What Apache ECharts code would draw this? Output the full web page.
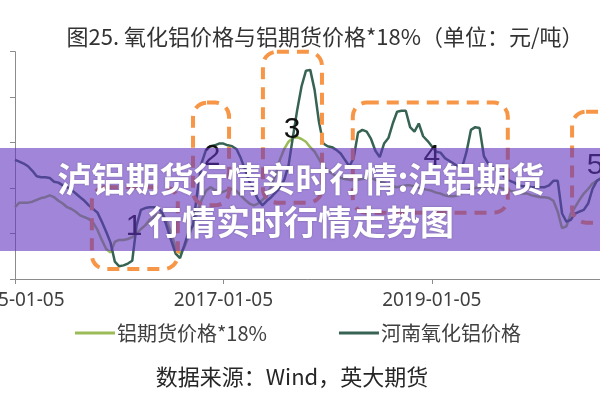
<!DOCTYPE html>
<html>
<head>
<meta charset="utf-8">
<script src="https://cdn.jsdelivr.net/npm/echarts@6/dist/echarts.min.js"></script>
<style>
html,body{margin:0;padding:0;background:#fff;}
#c{width:600px;height:400px;}
</style>
</head>
<body>
<div id="c"></div>
<script>
// ---- data (semi-monthly samples, 2015-01-05 .. 2020-09-05) ----
const startYear = 2015;
const categories = [];
for (let i = 0; i < 137; i++) {
  const m = Math.floor(i / 2);
  const y = startYear + Math.floor(m / 12);
  const mm = String(m % 12 + 1).padStart(2, '0');
  categories.push(y + '-' + mm + '-' + (i % 2 === 0 ? '05' : '20'));
}

const seriesNames = ['铝期货价格*18%', '河南氧化铝价格'];

const aluminumFutures18 = [
  2290,2340,2340,2340,2350,2370,2390,2400,2420,2400,
  2360,2330,2290,2270,2240,2200,2180,2160,2120,2040,
  1930,1830,1790,1910,1930,1930,1940,1960,2000,2050,
  2090,2150,2180,2220,2220,2130,2010,1840,1780,1850,
  1970,2090,2240,2370,2470,2510,2480,2450,2460,2480,
  2490,2470,2420,2370,2330,2310,2330,2370,2420,2520,
  2640,2810,2930,3010,3050,3060,3040,3010,2950,2900,
  2820,2740,2690,2660,2630,2610,2600,2590,2590,2590,
  2600,2610,2610,2590,2570,2560,2530,2520,2510,2520,
  2530,2530,2520,2500,2490,2480,2470,2450,2440,2420,
  2410,2410,2420,2450,2470,2490,2500,2510,2510,2520,
  2520,2510,2500,2480,2470,2460,2450,2440,2440,2420,
  2410,2400,2400,2390,2360,2240,2060,2080,2220,2290,
  2370,2440,2490,2550,2580,2600,2610
];

const henanAlumina = [
  2810,2790,2770,2740,2690,2630,2620,2620,2610,2570,
  2560,2530,2510,2480,2440,2400,2360,2310,2270,2230,
  2130,2020,1900,1690,1640,1650,1670,1700,2090,2260,
  2280,2290,2290,2280,2220,2070,1920,1780,1730,1870,
  2020,2090,2460,2780,2920,2960,2970,2990,2990,2970,
  2960,2930,2830,2700,2570,2470,2370,2310,2360,2400,
  2450,2500,2590,2750,3060,3360,3620,3790,3800,3580,
  3230,2990,2960,2950,2920,2880,2810,2740,2830,3110,
  3140,3120,3040,2910,2840,2990,3050,3210,3340,3350,
  3350,3170,3120,3210,3070,3020,2960,2900,2890,2830,
  2800,2770,2740,2730,2900,3140,3170,3160,2850,2770,
  2730,2690,2660,2610,2580,2560,2530,2520,2520,2510,
  2510,2510,2510,2530,2580,2580,2220,2130,2150,2220,
  2240,2260,2330,2490,2580,2610,2640
];

// annotation boxes: [startIndex, endIndex, topValue, bottomValue]
const boxes = [
  [17.7, 37.5, 2510, 1610],
  [41.0, 49.3, 3440, 2310],
  [57.1, 70.7, 4000, 2340],
  [77.8, 113.5, 3440, 2230],
  [128.3, 144.0, 3340, 2120]
];
// box number labels: [text, index, value]
const boxLabels = [
  ['1', 27.4, 2080],
  ['2', 45.4, 2840],
  ['3', 63.8, 3140],
  ['4', 96.0, 2840],
  ['5', 133.6, 2750]
];

const chartTitle = '图25. 氧化铝价格与铝期货价格*18%（单位：元/吨）';
const sourceText = '数据来源：Wind，英大期货';
const bannerLines = ['泸铝期货行情实时行情:泸铝期货', '行情实时行情走势图'];

// ---- chart ----
const chart = echarts.init(document.getElementById('c'), null, {renderer: 'canvas'});
const axisColor = '#8c8c8c';
const option = {
  animation: false,
  backgroundColor: '#ffffff',
  grid: {left: 15, top: 51.7, width: 590.5, height: 227.3, containLabel: false, outerBoundsMode: 'none'},
  legend: {
    left: 70, top: 318,
    itemWidth: 40, itemHeight: 3, itemGap: 72,
    icon: 'rect',
    textStyle: {fontSize: 20, color: '#404040', fontFamily: '"Noto Sans CJK SC"', lineHeight: 20, padding: [0, 0, 0, -3]},
    data: seriesNames
  },
  xAxis: {
    type: 'category',
    data: categories,
    boundaryGap: false,
    axisLine: {lineStyle: {color: axisColor, width: 1}},
    axisTick: {show: true, interval: 47, length: 5, lineStyle: {color: axisColor}},
    axisLabel: {interval: 47, showMinLabel: true, margin: 12, fontSize: 19, color: '#404040', fontFamily: '"Noto Sans"'},
    splitLine: {show: false}
  },
  yAxis: {
    type: 'value',
    min: 1500, max: 4000, interval: 500,
    axisLine: {show: true, lineStyle: {color: axisColor, width: 1}},
    axisTick: {show: true, length: 5, lineStyle: {color: axisColor}},
    axisLabel: {show: false},
    splitLine: {show: false}
  },
  series: [
    {name: seriesNames[0], type: 'line', data: aluminumFutures18, showSymbol: false,
     color: '#9BBB59', lineStyle: {width: 2.5, color: '#9BBB59'}, z: 2},
    {name: seriesNames[1], type: 'line', data: henanAlumina, showSymbol: false,
     color: '#376353', lineStyle: {width: 2.5, color: '#376353'}, z: 3}
  ]
};
chart.setOption(option);

// convert annotation coordinates through the chart's own axes
function toPx(idx, val) {
  const a = chart.convertToPixel({gridIndex: 0}, [0, val]);
  const b = chart.convertToPixel({gridIndex: 0}, [categories.length - 1, val]);
  return [a[0] + (idx / (categories.length - 1)) * (b[0] - a[0]), a[1]];
}

const elements = [];
boxes.forEach(b => {
  const p1 = toPx(b[0], b[2]);
  const p2 = toPx(b[1], b[3]);
  elements.push({
    type: 'rect', z: 50, silent: true,
    shape: {x: p1[0], y: p1[1], width: p2[0] - p1[0], height: p2[1] - p1[1], r: 14},
    style: {fill: 'none', stroke: '#F79646', lineWidth: 4, lineDash: [12, 8]}
  });
});
boxLabels.forEach(l => {
  const p = toPx(l[1], l[2]);
  elements.push({
    type: 'text', z: 51, silent: true, x: p[0], y: p[1],
    style: {text: l[0], fill: '#111', font: '30px "Liberation Sans"', align: 'center', verticalAlign: 'middle'}
  });
});
// title & source
elements.push({
  type: 'text', z: 60, x: 325, y: 37,
  style: {text: chartTitle, fill: '#333333', font: '22px "Noto Sans CJK SC"', align: 'center', verticalAlign: 'middle'}
});
elements.push({
  type: 'text', z: 60, x: 292, y: 377,
  style: {text: sourceText, fill: '#262626', font: '22px "Noto Sans CJK SC"', align: 'center', verticalAlign: 'middle'}
});
// overlay banner
elements.push({
  type: 'rect', z: 100, silent: true,
  shape: {x: 0, y: 148, width: 600, height: 103},
  style: {fill: 'rgba(97,52,190,0.6)'}
});
elements.push({
  type: 'text', z: 101, x: 301, y: 179,
  style: {text: bannerLines[0], fill: '#ffffff', font: 'bold 34px "Noto Sans CJK SC"', align: 'center', verticalAlign: 'middle',
          textShadowColor: 'rgba(0,0,0,0.25)', textShadowBlur: 2}
});
elements.push({
  type: 'text', z: 101, x: 301, y: 222,
  style: {text: bannerLines[1], fill: '#ffffff', font: 'bold 34px "Noto Sans CJK SC"', align: 'center', verticalAlign: 'middle',
          textShadowColor: 'rgba(0,0,0,0.25)', textShadowBlur: 2}
});
chart.setOption({graphic: {elements: elements}});
</script>
</body>
</html>
